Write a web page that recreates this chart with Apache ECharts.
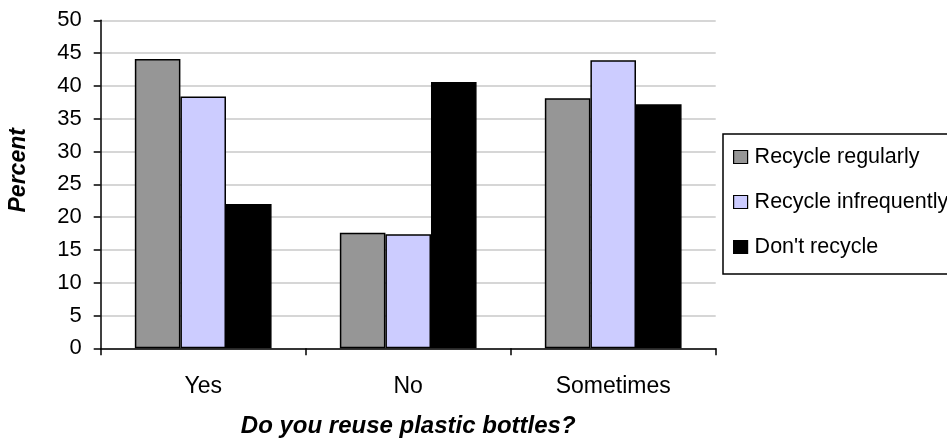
<!DOCTYPE html>
<html>
<head>
<meta charset="utf-8">
<script src="https://cdn.jsdelivr.net/npm/echarts@6/dist/echarts.min.js"></script>
<style>
  html, body { margin: 0; padding: 0; background: #ffffff; }
  #chart { width: 947px; height: 439px; }
</style>
</head>
<body>
<div id="chart"></div>
<script>
// Answers to "Do you reuse plastic bottles?" split by recycling habit (percent)
const categories = ['Yes', 'No', 'Sometimes'];
const recycleRegularly = [44.1, 17.6, 38.1];
const recycleInfrequently = [38.4, 17.4, 43.9];
const dontRecycle = [22.0, 40.6, 37.2];
const seriesNames = ['Recycle regularly', 'Recycle infrequently', "Don't recycle"];
const seriesColors = ['#969696', '#ccccff', '#000000'];

const FONT = '"Liberation Sans", Arial, sans-serif';

function barSeries(name, values, color) {
  return {
    name: name,
    type: 'bar',
    data: values,
    barGap: '0%',
    barCategoryGap: '33.3%',
    itemStyle: { color: color, borderColor: '#000000', borderWidth: 1.5 },
    emphasis: { disabled: true }
  };
}

const chart = echarts.init(document.getElementById('chart'), null, { renderer: 'canvas' });
chart.setOption({
  animation: false,
  backgroundColor: '#ffffff',
  textStyle: { fontFamily: FONT, color: '#000000' },
  grid: {
    left: 100.7, top: 20.3, right: 231.3, bottom: 90.7,
    containLabel: false,
    outerBoundsMode: 'none'
  },
  legend: {
    orient: 'vertical',
    left: 723,
    top: 134,
    padding: [12, 10, 16, 10],
    itemGap: 23,
    itemWidth: 14,
    itemHeight: 13,
    borderColor: '#000000',
    borderWidth: 1.5,
    backgroundColor: '#ffffff',
    icon: 'rect',
    selectedMode: false,
    itemStyle: { borderColor: '#000000', borderWidth: 1.2 },
    textStyle: { fontFamily: FONT, fontSize: 21.5, color: '#000000', padding: [0, 0, 0, 2] },
    data: seriesNames
  },
  xAxis: {
    type: 'category',
    data: categories,
    name: 'Do you reuse plastic bottles?',
    nameLocation: 'middle',
    nameGap: 66,
    nameTextStyle: { fontFamily: FONT, fontSize: 24, fontWeight: 'bold', fontStyle: 'italic', color: '#000000' },
    axisLine: { lineStyle: { color: '#000000', width: 1.5 } },
    axisTick: { show: true, length: 7, lineStyle: { color: '#000000', width: 1.5 } },
    axisLabel: { fontFamily: FONT, fontSize: 23, color: '#000000', margin: 27 },
    splitLine: { show: false }
  },
  yAxis: {
    type: 'value',
    min: 0,
    max: 50,
    interval: 5,
    name: 'Percent',
    nameLocation: 'middle',
    nameGap: 71,
    nameTextStyle: { fontFamily: FONT, fontSize: 23, fontWeight: 'bold', fontStyle: 'italic', color: '#000000', padding: [0, 0, 0, 28] },
    axisLine: { show: true, lineStyle: { color: '#000000', width: 1.5 } },
    axisTick: { show: true, length: 7, lineStyle: { color: '#000000', width: 1.5 } },
    axisLabel: { fontFamily: FONT, fontSize: 22, color: '#000000', margin: 19 },
    splitLine: { show: true, lineStyle: { color: '#c8c8c8', width: 1.5 } }
  },
  series: [
    barSeries(seriesNames[0], recycleRegularly, seriesColors[0]),
    barSeries(seriesNames[1], recycleInfrequently, seriesColors[1]),
    barSeries(seriesNames[2], dontRecycle, seriesColors[2])
  ]
});
</script>
</body>
</html>
